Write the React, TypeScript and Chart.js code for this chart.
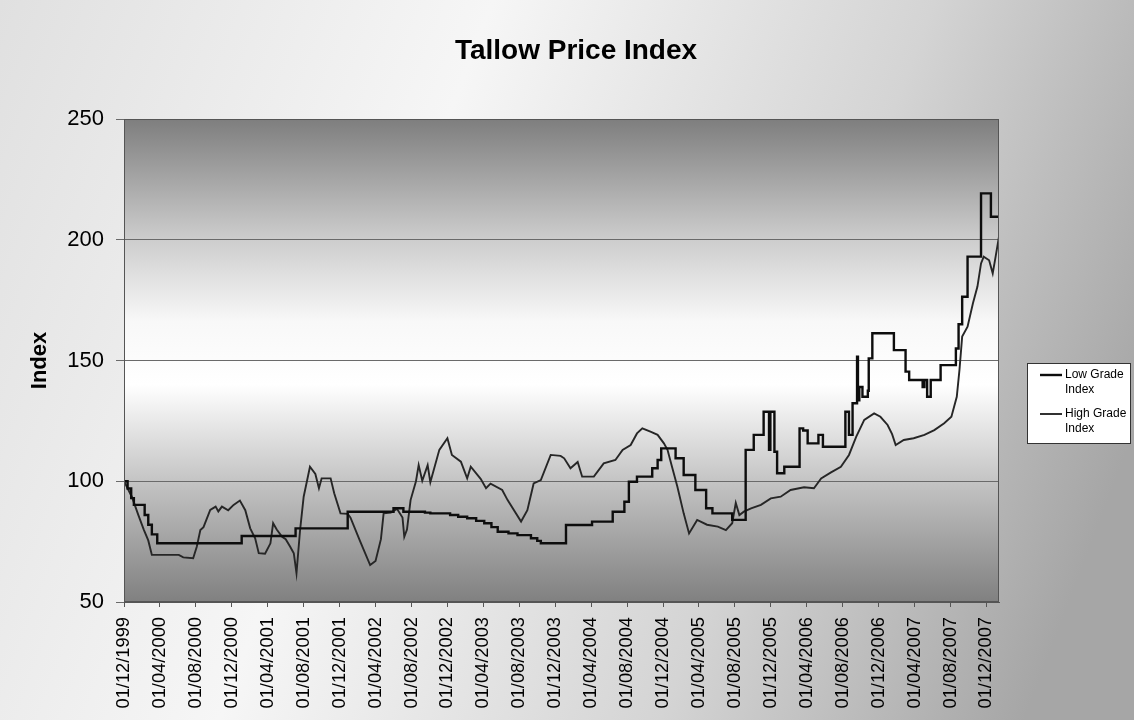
import React, { useEffect, useRef } from 'react';
import { Chart, registerables } from 'chart.js';

Chart.register(...registerables);

const chartTitle = 'Tallow Price Index';
const yAxisTitle = 'Index';

// X axis: months since 01/12/1999, labelled every 4 months
const tickLabels = [
  '01/12/1999', '01/04/2000', '01/08/2000', '01/12/2000', '01/04/2001', '01/08/2001',
  '01/12/2001', '01/04/2002', '01/08/2002', '01/12/2002', '01/04/2003', '01/08/2003',
  '01/12/2003', '01/04/2004', '01/08/2004', '01/12/2004', '01/04/2005', '01/08/2005',
  '01/12/2005', '01/04/2006', '01/08/2006', '01/12/2006', '01/04/2007', '01/08/2007',
  '01/12/2007',
];
const monthsPerTick = 4;
const xMaxMonth = 97.4;

const yTicks = [50, 100, 150, 200, 250];

// Low Grade Index (stepped) – month at which each level starts, and level
const lowGradeMonths = [
  0, 0.4, 0.8, 1.1, 2.3, 2.7, 3.1, 3.7, 13.1, 19.1, 24.9, 30.0, 31.1, 33.5, 34.1, 36.3,
  37.2, 38.2, 39.2, 40.1, 40.9, 41.6, 42.8, 43.8, 45.3, 46.0, 46.4, 49.2, 52.1, 54.4,
  55.7, 56.2, 57.1, 58.8, 59.4, 59.8, 61.4, 62.3, 63.6, 64.8, 65.5, 67.7, 69.2, 70.1,
  71.2, 71.8, 71.95, 72.4, 72.7, 73.5, 75.2, 75.6, 76.1, 77.3, 77.8, 80.3, 80.7, 81.1,
  81.6, 81.7, 81.85, 82.2, 82.8, 82.9, 83.3, 85.7, 87.0, 87.4, 88.9, 89.1, 89.4, 89.8,
  90.9, 92.6, 92.9, 93.3, 93.9, 95.4, 96.5, 97.4,
];
const lowGradeValues = [
  100, 97, 93, 90.2, 86, 82, 78, 74.3, 77.3, 80.5, 87.4, 88.8, 87.4, 87, 86.7, 86,
  85.3, 84.7, 83.6, 82.6, 81, 79.1, 78.4, 77.7, 76.4, 75.3, 74.3, 81.9, 83.3, 87.4,
  91.5, 99.8, 101.9, 105.4, 108.8, 113.6, 109.5, 102.6, 96.4, 88.8, 86.7, 84, 113, 119.2,
  128.8, 113, 128.8, 112.2, 103.3, 106, 121.9, 121, 115.7, 119.2, 114.3, 128.8, 119.2, 132.3,
  151.6, 133.5, 139, 135, 137.5, 150.9, 161.3, 154.3, 145.4, 141.9, 139, 141.9, 135, 141.9,
  148.1, 155, 165, 176.4, 193, 219.2, 209.5, 209.5,
];

// High Grade Index
const highGradeMonths = [
  0, 0.87, 1.6, 2.2, 2.7, 3.1, 6.1, 6.6, 7.7, 8.1, 8.5, 8.85, 9.6, 10.2, 10.5, 10.9,
  11.6, 12.2, 12.9, 13.5, 14.05, 14.6, 15.0, 15.7, 16.3, 16.6, 17.0, 17.6, 18.0, 18.5,
  18.9, 19.2, 19.6, 20.0, 20.7, 21.3, 21.7, 22.0, 23.0, 23.4, 24.1, 24.9, 25.2, 26.3,
  27.4, 28.0, 28.6, 28.9, 29.7, 30.4, 31.0, 31.2, 31.5, 31.9, 32.5, 32.8, 33.2, 33.8,
  34.1, 35.1, 36.0, 36.5, 37.5, 38.2, 38.6, 39.7, 40.3, 40.8, 42.1, 42.7, 44.2, 44.9,
  45.6, 46.4, 47.5, 48.6, 49.0, 49.7, 50.5, 51.0, 52.3, 53.4, 54.7, 55.5, 56.4, 57.1,
  57.7, 58.6, 59.4, 60.1, 60.5, 61.0, 61.6, 62.3, 62.9, 63.8, 64.9, 66.1, 67.0, 67.7,
  68.1, 68.5, 69.0, 69.8, 70.9, 72.0, 73.1, 74.2, 75.7, 76.8, 77.6, 78.7, 79.8, 80.7,
  81.5, 82.4, 83.5, 84.2, 85.0, 85.5, 85.9, 86.8, 87.9, 89.1, 90.2, 91.3, 92.1, 92.7,
  93.0, 93.3, 93.9, 94.5, 95.0, 95.4, 95.7, 96.3, 96.7, 97.0, 97.4,
];
const highGradeValues = [
  100, 93.6, 86, 80, 75.5, 69.5, 69.5, 68.5, 68.1, 72.9, 79.8, 81, 88.1, 89.5, 87.5, 89.5,
  88, 90.2, 92, 88, 80.5, 76.4, 70.2, 70, 74.3, 82.6, 80, 77, 76, 72.9,
  70.2, 61.9, 79.8, 93.6, 106, 103, 97.1, 101.2, 101.2, 95, 86.7, 86.5, 85, 75,
  65.3, 67, 76, 86.7, 87, 88.5, 85, 77, 80, 92.2, 100, 106.7, 100.2, 106.7,
  99.6, 113, 117.8, 110.9, 108.1, 101.2, 106, 101, 97.1, 99, 96.4, 92.2, 83.3, 88,
  99.1, 100.5, 110.9, 110.5, 109.5, 105.4, 108, 101.9, 101.9, 107.4, 108.8, 113, 115, 119.8,
  121.9, 120.5, 119.2, 115.7, 113, 106, 97.7, 86.7, 78.4, 84, 82, 81.2, 79.8, 82.6,
  91, 86, 87.4, 88.8, 90.2, 92.9, 93.6, 96.4, 97.5, 97.1, 101.2, 103.7, 106, 110.9,
  118.4, 125.4, 128.1, 126.7, 123.3, 119.5, 115, 117.1, 117.8, 119.2, 121.2, 124, 126.7, 135,
  146.1, 159.9, 164, 173.7, 180.6, 190.2, 193, 191.5, 186.1, 192.5, 201.3,
];

const seriesNames = ['Low Grade Index', 'High Grade Index'];
const seriesColors = ['#0d0d0d', '#262626'];
const seriesWidths = [2.4, 1.9];

const FONT = 'Arial, "Liberation Sans", sans-serif';

const backgroundPlugin = {
  id: 'tallowBackground',
  beforeDraw(chart: any) {
    const { ctx, width, height, chartArea } = chart;
    ctx.save();
    const outer = ctx.createLinearGradient(0, 0, width, height * 0.6);
    outer.addColorStop(0, '#e0e0e0');
    outer.addColorStop(0.38, '#f6f6f6');
    outer.addColorStop(0.72, '#d4d4d4');
    outer.addColorStop(1, '#a6a6a6');
    ctx.fillStyle = outer;
    ctx.fillRect(0, 0, width, height);

    const { left, top, right, bottom } = chartArea;
    const inner = ctx.createLinearGradient(0, top, 0, bottom);
    inner.addColorStop(0, '#7e7e7e');
    inner.addColorStop(0.25, '#cdcdcd');
    inner.addColorStop(0.42, '#f8f8f8');
    inner.addColorStop(0.55, '#ffffff');
    inner.addColorStop(0.75, '#c4c4c4');
    inner.addColorStop(1, '#808080');
    ctx.fillStyle = inner;
    ctx.fillRect(left, top, right - left, bottom - top);

    // chart title
    ctx.fillStyle = '#000000';
    ctx.font = `bold 28px ${FONT}`;
    ctx.textAlign = 'center';
    ctx.textBaseline = 'middle';
    ctx.fillText(chartTitle, 576, 51);
    ctx.restore();
  },
  afterDraw(chart: any) {
    const { ctx, chartArea } = chart;
    const { left, top, right, bottom } = chartArea;
    ctx.save();
    ctx.strokeStyle = '#555555';
    ctx.lineWidth = 1;
    ctx.strokeRect(left + 0.5, top + 0.5, right - left - 1, bottom - top - 1);

    // legend
    const lx = 1027;
    const ly = 363;
    ctx.fillStyle = '#ffffff';
    ctx.fillRect(lx, ly, 103, 80);
    ctx.strokeStyle = '#333333';
    ctx.strokeRect(lx + 0.5, ly + 0.5, 103, 80);
    ctx.font = `12px ${FONT}`;
    ctx.textBaseline = 'middle';
    ctx.textAlign = 'left';
    seriesNames.forEach((name, i) => {
      const y = ly + 12 + i * 39;
      ctx.strokeStyle = seriesColors[i];
      ctx.lineWidth = seriesWidths[i];
      ctx.beginPath();
      ctx.moveTo(lx + 13, y);
      ctx.lineTo(lx + 35, y);
      ctx.stroke();
      ctx.fillStyle = '#000000';
      const parts = name.split(' ');
      ctx.fillText(parts.slice(0, 2).join(' '), lx + 38, y);
      ctx.fillText(parts.slice(2).join(' '), lx + 38, y + 15);
    });
    ctx.restore();
  },
};

export default function App() {
  const canvasRef = useRef<HTMLCanvasElement | null>(null);

  useEffect(() => {
    document.body.style.margin = '0';
    const canvas = canvasRef.current;
    if (!canvas) return;

    const lowData = lowGradeMonths.map((m, i) => ({ x: m, y: lowGradeValues[i] }));
    const highData = highGradeMonths.map((m, i) => ({ x: m, y: highGradeValues[i] }));

    const chart = new Chart(canvas, {
      type: 'line',
      data: {
        datasets: [
          {
            label: seriesNames[0],
            data: lowData,
            borderColor: seriesColors[0],
            borderWidth: seriesWidths[0],
            pointRadius: 0,
            stepped: true,
            fill: false,
          },
          {
            label: seriesNames[1],
            data: highData,
            borderColor: seriesColors[1],
            borderWidth: seriesWidths[1],
            pointRadius: 0,
            tension: 0,
            fill: false,
          },
        ],
      },
      options: {
        animation: false,
        responsive: false,
        events: [],
        layout: { padding: { left: 0, right: 135, top: 119, bottom: 0 } },
        plugins: {
          legend: { display: false },
          tooltip: { enabled: false },
          title: { display: false },
        },
        scales: {
          x: {
            type: 'linear',
            min: 0,
            max: xMaxMonth,
            afterBuildTicks: (scale: any) => {
              scale.ticks = tickLabels.map((_, i) => ({ value: i * monthsPerTick }));
            },
            afterFit: (scale: any) => {
              scale.height = 118;
            },
            ticks: {
              autoSkip: false,
              minRotation: 90,
              maxRotation: 90,
              padding: 10,
              color: '#000000',
              font: { family: FONT, size: 18.3 },
              callback: (value: any) => {
                const idx = Math.round(Number(value) / monthsPerTick);
                return tickLabels[idx] ?? '';
              },
            },
            grid: {
              drawOnChartArea: false,
              drawTicks: true,
              tickLength: 5,
              color: '#555555',
            },
            border: { display: true, color: '#555555', width: 1 },
          },
          y: {
            type: 'linear',
            min: 50,
            max: 250,
            afterBuildTicks: (scale: any) => {
              scale.ticks = yTicks.map((v) => ({ value: v }));
            },
            afterFit: (scale: any) => {
              scale.width = 124;
            },
            ticks: {
              padding: 12,
              color: '#000000',
              font: { family: FONT, size: 22 },
            },
            title: {
              display: true,
              text: yAxisTitle,
              color: '#000000',
              font: { family: FONT, size: 22, weight: 'bold' },
              padding: { top: 27, bottom: 0 },
            },
            grid: {
              color: '#6a6a6a',
              lineWidth: 1,
              tickLength: 8,
            },
            border: { display: true, color: '#555555', width: 1 },
          },
        },
      },
      plugins: [backgroundPlugin],
    });

    return () => {
      chart.destroy();
    };
  }, []);

  return (
    <div style={{ width: 1134, height: 720, position: 'relative' }}>
      <canvas ref={canvasRef} width={1134} height={720} style={{ display: 'block' }} />
    </div>
  );
}
